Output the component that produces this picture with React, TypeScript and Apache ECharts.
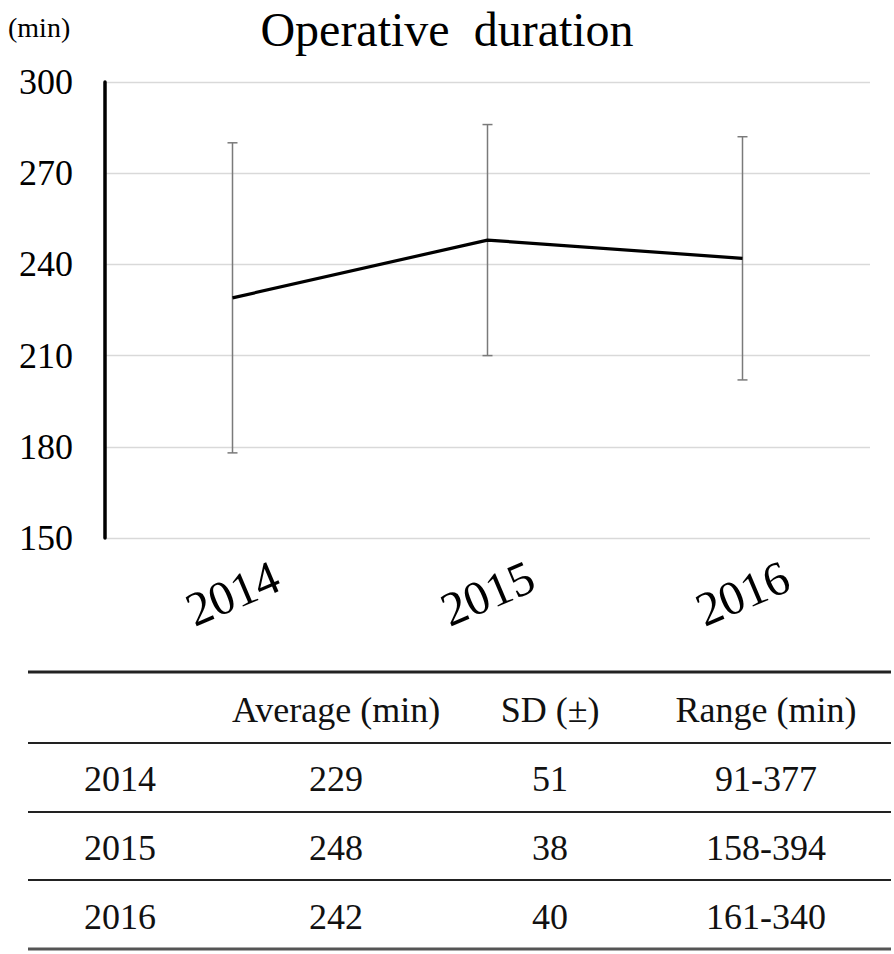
import React, { useEffect, useRef } from 'react';
import * as echarts from 'echarts';

const years = ['2014', '2015', '2016'];
const averages = [229, 248, 242];
const sds = [51, 38, 40];
const ranges = ['91-377', '158-394', '161-340'];
const tableHeaders = ['', 'Average (min)', 'SD (±)', 'Range (min)'];
const yMin = 150;
const yMax = 300;
const yInterval = 30;

export default function App() {
  const ref = useRef<HTMLDivElement>(null);
  useEffect(() => {
    const chart = echarts.init(ref.current!, null, { renderer: 'svg' });
    const serif = 'Liberation Serif';
    const colX = [120, 336, 550, 766];
    const rowY = [710, 779, 848, 917];
    const lineY = [672, 743, 812, 880, 949];
    const lineW = [3, 2, 2, 2, 3];
    const rows = years.map((y, i) => [y, String(averages[i]), String(sds[i]), ranges[i]]);
    const graphics: any[] = [];
    graphics.push({
      type: 'text',
      x: 8,
      y: 27,
      style: {
        text: '(min)',
        fontSize: 28,
        fontFamily: serif,
        fill: '#000',
        align: 'left',
        verticalAlign: 'middle',
      },
    });
    [tableHeaders, ...rows].forEach((row, r) =>
      row.forEach((t, c) => {
        if (!t) return;
        graphics.push({
          type: 'text',
          x: colX[c],
          y: rowY[r],
          style: {
            text: t,
            fontSize: 36,
            fontFamily: serif,
            fill: '#111',
            align: 'center',
            verticalAlign: 'middle',
          },
        });
      })
    );
    lineY.forEach((y, i) => {
      graphics.push({
        type: 'line',
        shape: { x1: 28, y1: y, x2: 891, y2: y },
        style: { stroke: i === lineY.length - 1 ? '#555' : '#222', lineWidth: lineW[i] },
      });
    });

    const errData = years.map((_, i) => [i, averages[i] - sds[i], averages[i] + sds[i]]);

    chart.setOption({
      animation: false,
      title: {
        text: 'Operative  duration',
        left: 'center',
        top: 0,
        textStyle: { fontFamily: serif, fontSize: 48, fontWeight: 'normal', color: '#000' },
      },
      grid: { left: 105, right: 24, top: 82, bottom: 416, containLabel: false },
      xAxis: {
        type: 'category',
        data: years,
        boundaryGap: true,
        axisLine: { show: false },
        axisTick: { show: false },
        axisLabel: {
          rotate: 23,
          align: 'center',
          verticalAlign: 'middle',
          margin: 55,
          fontFamily: serif,
          fontSize: 48,
          color: '#000',
        },
      },
      yAxis: {
        type: 'value',
        min: yMin,
        max: yMax,
        interval: yInterval,
        axisLine: { show: true, lineStyle: { color: '#000', width: 3.5 } },
        axisTick: { show: false },
        axisLabel: { margin: 32, fontFamily: serif, fontSize: 36, color: '#000' },
        splitLine: { show: true, lineStyle: { color: '#d9d9d9', width: 1.3 } },
      },
      series: [
        {
          type: 'custom',
          data: errData,
          z: 2,
          renderItem: (params: any, api: any) => {
            const x = api.value(0);
            const lo = api.coord([x, api.value(1)]);
            const hi = api.coord([x, api.value(2)]);
            const cap = 5;
            const st = { stroke: '#7a7a7a', lineWidth: 1.5 };
            return {
              type: 'group',
              children: [
                { type: 'line', shape: { x1: lo[0], y1: lo[1], x2: hi[0], y2: hi[1] }, style: st },
                { type: 'line', shape: { x1: hi[0] - cap, y1: hi[1], x2: hi[0] + cap, y2: hi[1] }, style: st },
                { type: 'line', shape: { x1: lo[0] - cap, y1: lo[1], x2: lo[0] + cap, y2: lo[1] }, style: st },
              ],
            };
          },
        },
        {
          type: 'line',
          data: averages,
          z: 5,
          symbol: 'none',
          lineStyle: { color: '#000', width: 3.2 },
        },
      ],
      graphic: graphics,
    });
    return () => chart.dispose();
  }, []);
  return <div ref={ref} style={{ position: 'absolute', left: 0, top: 0, width: 894, height: 954 }} />;
}
